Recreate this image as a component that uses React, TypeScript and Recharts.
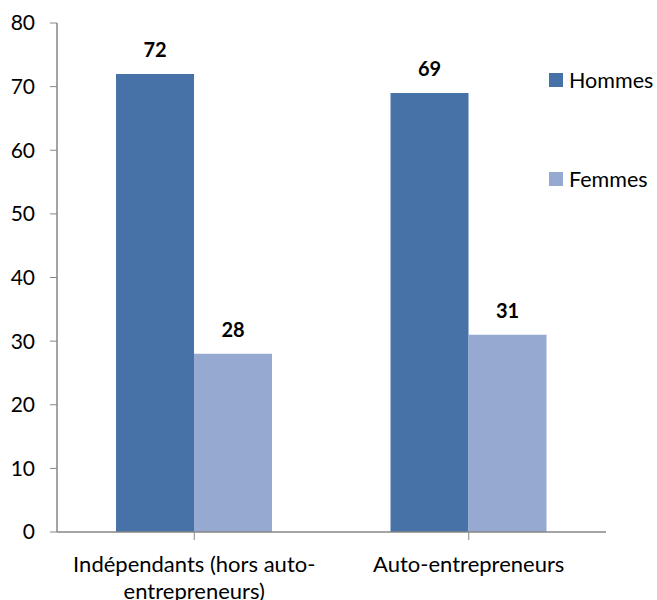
import React from 'react';
import { BarChart, Bar, XAxis, YAxis, LabelList } from 'recharts';

const categories = ['Indépendants (hors auto-entrepreneurs)', 'Auto-entrepreneurs'];
const tickLines: string[][] = [
  ['Indépendants (hors auto-', 'entrepreneurs)'],
  ['Auto-entrepreneurs'],
];
const hommes = [72, 69];
const femmes = [28, 31];
const yTicks = [0, 10, 20, 30, 40, 50, 60, 70, 80];

const FONT = 'Lato, "Open Sans", sans-serif';
const AXIS = '#868686';
const BLUE = '#4672A8';
const LIGHT = '#95A9D1';

const data = categories.map((name, i) => ({
  name,
  idx: i,
  Hommes: hommes[i],
  Femmes: femmes[i],
}));

const CategoryTick = (props: any) => {
  const { x, y, index } = props;
  const lines = tickLines[index] || [];
  return (
    <text x={x} y={y} textAnchor="middle" fontFamily={FONT} fontSize={22} fill="#000">
      {lines.map((l, i) => (
        <tspan key={i} x={x} dy={i === 0 ? 30 : 27}>
          {l}
        </tspan>
      ))}
    </text>
  );
};

const LegendBox = () => (
  <div style={{ position: 'absolute', left: 549, top: 70, fontFamily: FONT, fontSize: 21.5 }}>
    {[
      { label: 'Hommes', color: BLUE },
      { label: 'Femmes', color: LIGHT },
    ].map((s, i) => (
      <div key={s.label} style={{ display: 'flex', alignItems: 'center', height: 20, marginTop: i === 0 ? 0 : 79 }}>
        <span style={{ width: 14, height: 14, background: s.color, display: 'inline-block', marginRight: 6 }} />
        <span>{s.label}</span>
      </div>
    ))}
  </div>
);

export default function App() {
  return (
    <div style={{ position: 'absolute', left: 0, top: 0, width: 657, height: 600, background: '#fff' }}>
      <BarChart
        width={657}
        height={600}
        data={data}
        margin={{ top: 23, right: 51, left: 0, bottom: 0 }}
        barCategoryGap="21.5%"
        barGap={0}
      >
        <XAxis
          dataKey="name"
          tick={<CategoryTick />}
          tickLine={{ stroke: AXIS }}
          axisLine={{ stroke: AXIS, strokeWidth: 1.5 }}
          tickSize={8}
          height={68}
          interval={0}
          scale="band"
        />
        <YAxis
          domain={[0, 80]}
          ticks={yTicks}
          width={57}
          tickSize={7}
          tickMargin={15}
          tick={{ fill: '#000', fontSize: 21, fontFamily: FONT }}
          tickLine={{ stroke: AXIS }}
          axisLine={{ stroke: AXIS, strokeWidth: 1.5 }}
          interval={0}
        />
        <Bar dataKey="Hommes" fill={BLUE} isAnimationActive={false}>
          <LabelList
            dataKey="Hommes"
            position="top"
            offset={17}
            style={{ fontWeight: 'bold', fontSize: 20, fontFamily: FONT, fill: '#000' }}
          />
        </Bar>
        <Bar dataKey="Femmes" fill={LIGHT} isAnimationActive={false}>
          <LabelList
            dataKey="Femmes"
            position="top"
            offset={17}
            style={{ fontWeight: 'bold', fontSize: 20, fontFamily: FONT, fill: '#000' }}
          />
        </Bar>
      </BarChart>
      <LegendBox />
    </div>
  );
}
